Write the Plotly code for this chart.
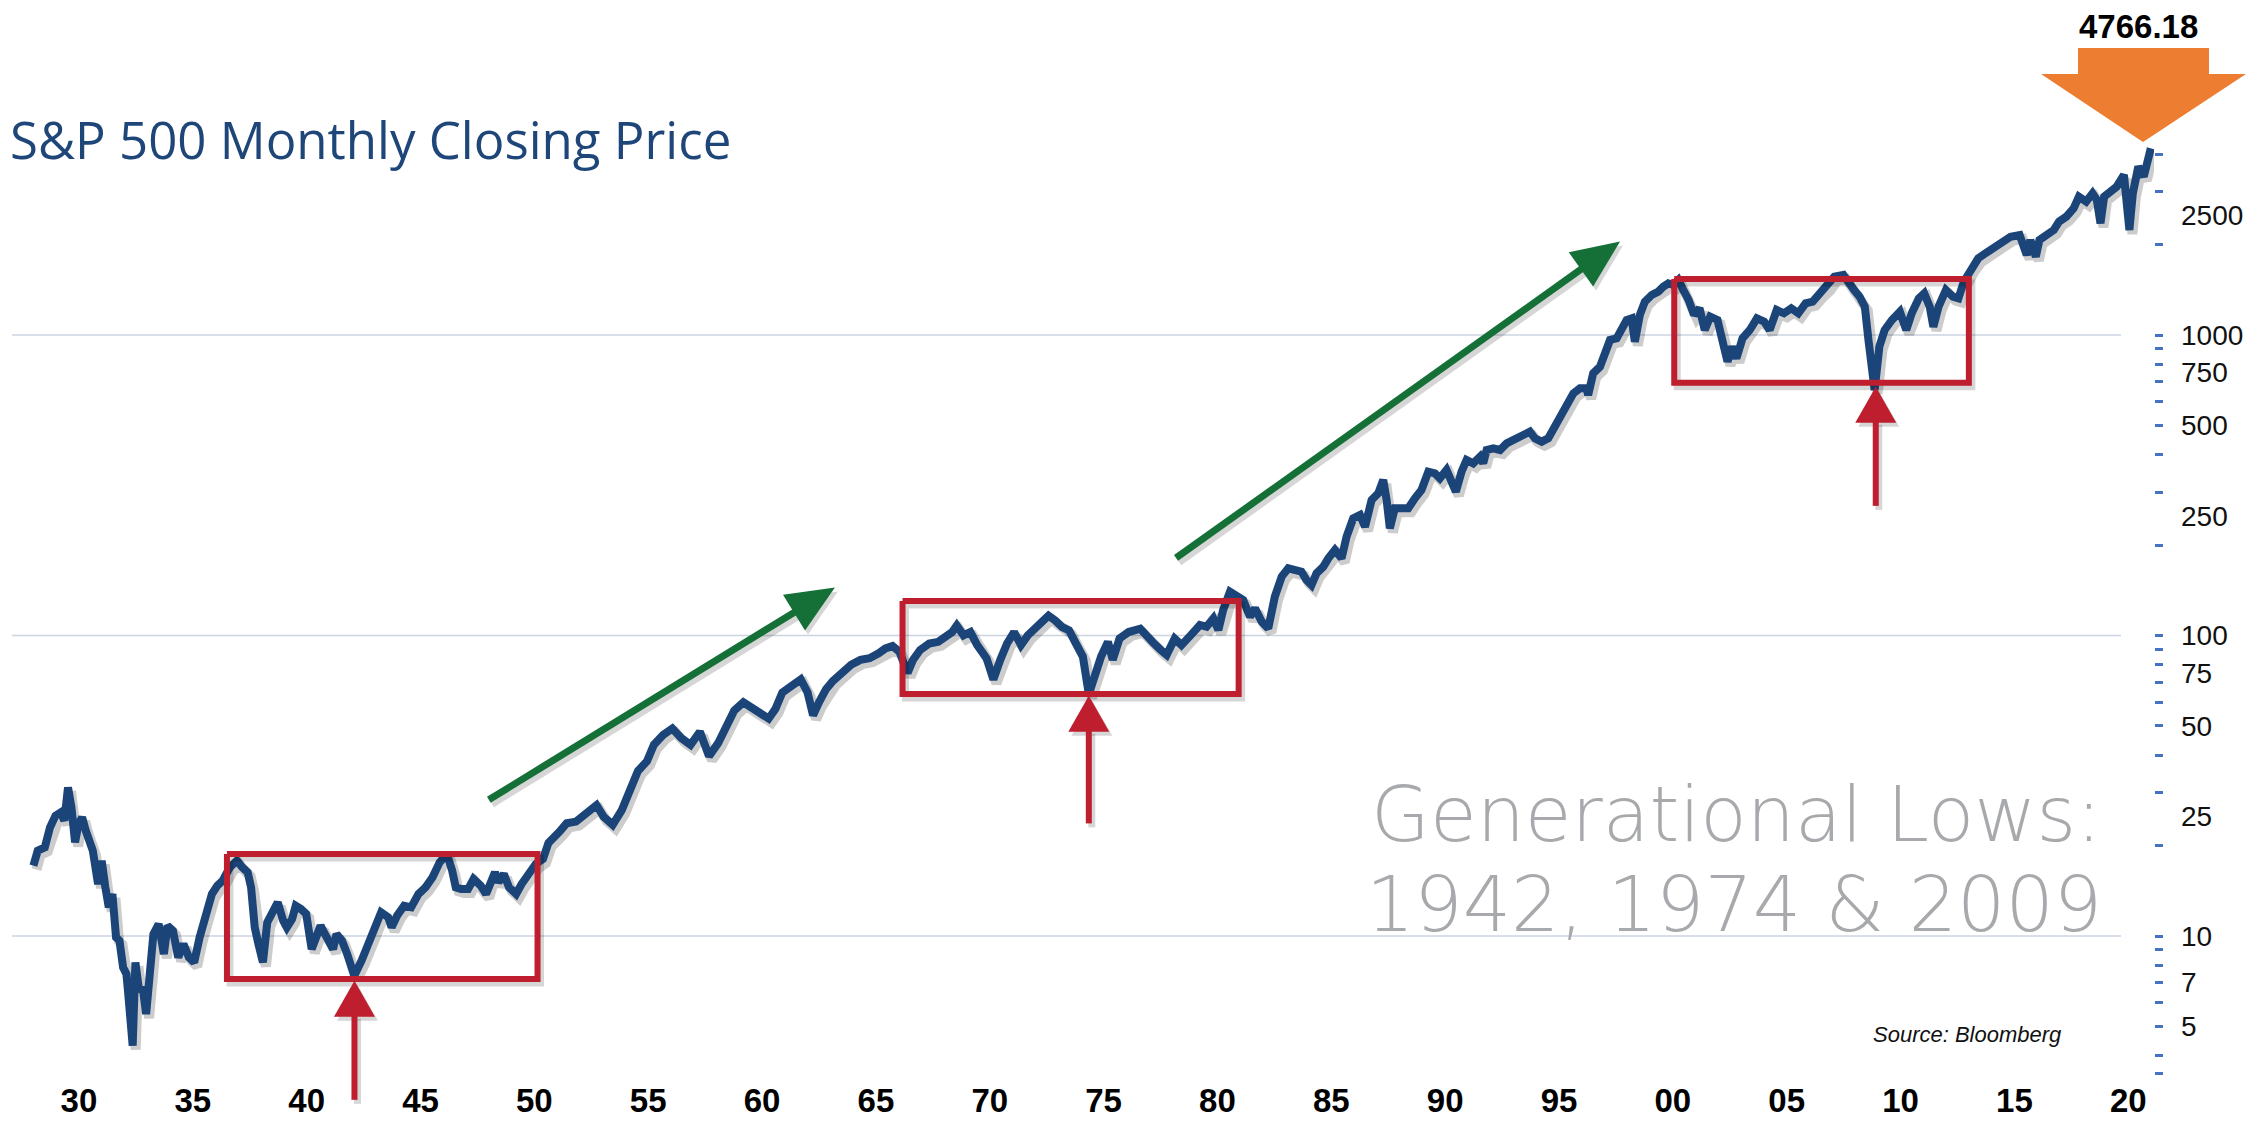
import math
import plotly.graph_objects as go

# S&P 500 monthly close: decimal year and index level
years = [
    1928.00, 1928.19, 1928.50, 1928.73, 1928.97, 1929.20, 1929.36, 1929.52, 1929.67, 1929.83,
    1929.98, 1930.14, 1930.30, 1930.45, 1930.61, 1930.84, 1931.00, 1931.16, 1931.31, 1931.47,
    1931.63, 1931.78, 1931.94, 1932.09, 1932.25, 1932.36, 1932.48, 1932.64, 1932.80, 1932.95,
    1933.11, 1933.27, 1933.50, 1933.73, 1933.89, 1934.13, 1934.36, 1934.59, 1934.83, 1935.06,
    1935.30, 1935.61, 1935.84, 1936.08, 1936.31, 1936.63, 1936.94, 1937.17, 1937.41, 1937.56,
    1937.72, 1937.88, 1938.08, 1938.27, 1938.50, 1938.73, 1938.97, 1939.13, 1939.36, 1939.52,
    1939.75, 1939.98, 1940.22, 1940.38, 1940.61, 1940.84, 1941.00, 1941.16, 1941.31, 1941.55,
    1941.78, 1942.09, 1942.41, 1942.72, 1943.03, 1943.27, 1943.58, 1943.73, 1943.97, 1944.28,
    1944.59, 1944.91, 1945.22, 1945.53, 1945.84, 1946.16, 1946.39, 1946.55, 1946.78, 1947.09,
    1947.33, 1947.64, 1947.88, 1948.11, 1948.27, 1948.42, 1948.66, 1948.89, 1949.20, 1949.44,
    1949.75, 1950.06, 1950.38,
    1950.62, 1951.12, 1951.42, 1951.83, 1952.23, 1952.73, 1953.04, 1953.44, 1953.84, 1954.14,
    1954.55, 1954.95, 1955.25, 1955.65, 1956.06, 1956.46, 1956.86, 1957.27, 1957.67, 1958.07,
    1958.37, 1958.78, 1959.18, 1959.58, 1959.99, 1960.29, 1960.59, 1960.89, 1961.29, 1961.70,
    1962.00, 1962.24, 1962.50, 1962.81, 1963.11, 1963.51, 1963.91, 1964.32, 1964.72, 1965.12,
    1965.42, 1965.73, 1966.03, 1966.39, 1966.63, 1966.94, 1967.34, 1967.74, 1968.04, 1968.35,
    1968.55, 1968.85, 1969.15, 1969.45, 1969.86, 1970.16, 1970.46, 1970.76, 1971.07, 1971.37,
    1971.67, 1972.07, 1972.58, 1972.88, 1973.18, 1973.48, 1973.78, 1974.09, 1974.35, 1974.63,
    1974.89, 1975.19, 1975.40, 1975.70, 1976.10, 1976.61, 1976.91, 1977.21, 1977.51, 1977.77,
    1978.12, 1978.42, 1978.82,
    1979.23, 1979.52, 1979.82, 1980.04, 1980.25, 1980.55, 1980.84, 1981.13, 1981.43, 1981.65,
    1981.94, 1982.23, 1982.52, 1982.82, 1983.11, 1983.48, 1983.69, 1983.91, 1984.13, 1984.35,
    1984.65, 1984.87, 1985.16, 1985.45, 1985.67, 1985.96, 1986.26, 1986.48, 1986.77, 1987.06,
    1987.28, 1987.43, 1987.57, 1987.79, 1988.09, 1988.38, 1988.67, 1988.96, 1989.26, 1989.55,
    1989.77, 1990.06, 1990.28, 1990.47, 1990.72, 1990.94, 1991.23, 1991.53, 1991.67, 1991.82,
    1992.11, 1992.41, 1992.70, 1992.99, 1993.28, 1993.58, 1993.72, 1993.94, 1994.24, 1994.53,
    1994.82, 1995.04, 1995.33, 1995.63, 1995.92, 1996.21, 1996.28, 1996.50, 1996.80, 1997.02,
    1997.24, 1997.53, 1997.75, 1997.97, 1998.19, 1998.33, 1998.55, 1998.77, 1999.07, 1999.36,
    1999.58, 1999.80, 2000.02, 2000.24,
    2000.46, 2000.69, 2000.93, 2001.17, 2001.40, 2001.64, 2001.96, 2002.19, 2002.40, 2002.59,
    2002.79, 2003.06, 2003.38, 2003.69, 2004.01, 2004.25, 2004.56, 2004.88, 2005.20, 2005.51,
    2005.83, 2006.14, 2006.46, 2006.78, 2007.09, 2007.49, 2007.72, 2007.96, 2008.20, 2008.43,
    2008.59, 2008.86, 2009.07, 2009.30, 2009.62, 2009.97, 2010.25, 2010.49, 2010.80, 2011.04,
    2011.28, 2011.44, 2011.67, 2011.99, 2012.30, 2012.54, 2012.78, 2013.09, 2013.41, 2013.73,
    2014.12, 2014.44, 2014.83, 2015.23, 2015.39, 2015.54, 2015.70, 2015.94, 2016.10, 2016.41,
    2016.73, 2016.96, 2017.28, 2017.60, 2017.83, 2018.15, 2018.43, 2018.62, 2018.78, 2018.94,
    2019.26, 2019.49, 2019.81, 2020.05, 2020.20, 2020.44, 2020.68, 2020.83, 2020.99,
]
closes = [
    17.14, 19.23, 19.72, 22.99, 25.15, 25.79, 24.20, 31.24, 26.80, 20.50,
    23.59, 24.83, 22.41, 20.76, 19.23, 14.89, 17.81, 14.52, 12.46, 13.80,
    9.90, 9.65, 7.86, 7.47, 5.64, 4.32, 8.17, 6.58, 6.75, 5.50,
    7.47, 10.15, 10.96, 8.71, 10.82, 10.41, 8.49, 9.41, 8.49, 8.17,
    9.90, 12.14, 13.80, 14.71, 15.28, 16.93, 17.81, 16.93, 16.29, 14.52,
    10.69, 9.41, 8.17, 11.10, 12.14, 12.94, 11.25, 10.69, 11.39, 12.61,
    12.30, 11.84, 9.05, 9.65, 10.82, 10.03, 9.41, 9.05, 10.15, 9.65,
    8.71, 7.38, 8.28, 9.41, 10.96, 11.99, 11.54, 10.69, 11.68, 12.61,
    12.46, 13.80, 14.52, 15.68, 17.58, 18.75, 16.50, 14.52, 14.33, 14.33,
    15.48, 14.71, 13.80, 15.68, 16.29, 15.09, 16.08, 14.52, 13.80, 14.89,
    16.29, 17.36, 18.04,
    20.42, 22.29, 23.73, 24.03, 25.58, 27.24, 24.95, 23.44, 26.24, 30.10,
    35.42, 38.18, 43.28, 46.67, 49.06, 45.51, 43.28, 47.85, 39.65, 43.83,
    49.06, 56.30, 59.95, 57.02, 54.91, 52.88, 57.02, 64.63, 67.94, 71.43,
    64.63, 54.23, 59.95, 66.26, 70.55, 75.09, 79.93, 82.99, 84.03, 87.26,
    90.60, 92.21, 88.38, 75.09, 82.99, 89.48, 94.08, 95.26, 98.90, 102.7,
    107.9, 100.1, 102.7, 92.9, 84.03, 71.43, 82.99, 94.08, 102.7, 92.9,
    100.1, 106.6, 116.4, 112.1, 106.6, 104.0, 94.08, 85.1, 63.8, 75.09,
    85.1, 95.26, 82.99, 97.68, 102.7, 105.3, 98.90, 94.08, 89.48, 86.2,
    97.68, 92.9, 100.1,
    108.4, 106.9, 114.0, 104.3, 121.6, 139.9, 134.7, 131.3, 115.5, 123.1,
    111.2, 105.6, 134.7, 157.0, 167.3, 165.2, 163.1, 153.0, 147.3, 161.0,
    169.5, 180.6, 192.6, 180.6, 213.3, 245.4, 251.8, 230.2, 282.5, 297.3,
    329.3, 282.5, 227.3, 265.0, 265.0, 265.0, 286.1, 305.0, 351.0, 346.5,
    333.4, 355.4, 325.1, 301.1, 351.0, 383.7, 374.0, 393.6, 374.0, 414.3,
    419.6, 414.3, 436.0, 447.3, 458.9, 464.8, 476.8, 453.1, 441.6, 453.1,
    495.5, 541.8, 577.6, 639.6, 664.5, 664.5, 631.5, 745.6, 784.7, 869.0,
    962.5, 974.8, 1039, 1122, 1136, 950.2, 1166, 1291, 1359, 1394,
    1448, 1486, 1467, 1524,
    1412, 1308, 1166, 1227, 1039, 1151, 1122, 962.5, 815.4, 914.8,
    836.4, 974.8, 1039, 1136, 1108, 1039, 1211, 1181, 1227, 1181,
    1275, 1291, 1376, 1448, 1564, 1584, 1486, 1412, 1341, 1243,
    962.5, 656.1, 914.8, 1039, 1122, 1196, 1039, 1181, 1324, 1376,
    1243, 1066, 1243, 1412, 1341, 1324, 1505, 1667, 1800, 1870,
    1968, 2045, 2124, 2151, 1968, 1846, 2071, 1823, 2071, 2151,
    2236, 2383, 2476, 2640, 2886, 2778, 2960, 2813, 2353, 2886,
    3037, 3115, 3408, 2236, 2960, 3633, 3365, 3727, 4180,
]

# highlighted ranges (year span, level span)
box_years = [(1936.5, 1950.14), (1966.17, 1980.93), (2000.06, 2013.0)]
box_levels = [(7.19, 18.75), (63.9, 130.3), (694, 1535)]
# generational lows: arrow tip and tail
low_years = [1942.1, 1974.35, 2008.91]
low_levels = [7.10, 63.0, 673]
tail_levels = [2.85, 23.7, 270]
# trend arrows
trend_from = [(1948.0, 28.4), (1978.18, 181.2)]
trend_to = [(1963.2, 144.5), (1997.68, 2047)]

x_ticks = list(range(1930, 2021, 5))
x_labels = [f"{y % 100:02d}" for y in x_ticks]
y_label_vals = [5, 7, 10, 25, 50, 75, 100, 250, 500, 750, 1000, 2500]
y_minor_vals = [3.5, 4, 5, 6, 7, 8, 9, 10, 20, 30, 40, 50, 60, 70, 80, 90,
                100, 200, 300, 400, 500, 600, 700, 800, 900, 1000, 2000, 3000, 4000]
grid_vals = [10, 100, 1000]
last_close_label = "4766.18"

# ---- layout geometry
W, H = 2253, 1124
ML, MR, MT, MB = 12, 99, 140, 50
PW, PH = W - ML - MR, H - MT - MB
XR = [1927.06, 2021.13]
YR = [0.5408, 3.6489]

NAVY = "#1B4478"
RED = "#BE1E2D"
GREEN = "#157038"
ORANGE = "#ED7D31"
SHADOW = "rgba(0,0,0,0.16)"


def to_px(yr, lvl):
    x = ML + (yr - XR[0]) / (XR[1] - XR[0]) * PW
    y = MT + (YR[1] - math.log10(lvl)) / (YR[1] - YR[0]) * PH
    return x, y


def paper(x, y):
    return (x - ML) / PW, 1 - (y - MT) / PH


def path(points, close=True):
    s = ""
    for i, (x, y) in enumerate(points):
        px_, py_ = paper(x, y)
        s += ("M" if i == 0 else "L") + f"{px_:.5f},{py_:.5f} "
    return s + ("Z" if close else "")


def arrow(p0, p1, head_len, head_w):
    (x0, y0), (x1, y1) = p0, p1
    d = math.hypot(x1 - x0, y1 - y0)
    ux, uy = (x1 - x0) / d, (y1 - y0) / d
    bx, by = x1 - ux * head_len, y1 - uy * head_len
    nx, ny = -uy, ux
    shaft = [(x0, y0), (bx + ux * 2, by + uy * 2)]
    head = [(x1, y1), (bx + nx * head_w / 2, by + ny * head_w / 2),
            (bx - nx * head_w / 2, by - ny * head_w / 2)]
    return shaft, head


shapes = []


def add_line(pts, color, width):
    shapes.append(dict(type="path", path=path(pts, close=False), xref="paper", yref="paper",
                       line=dict(color=color, width=width), layer="above"))


def add_poly(pts, color):
    shapes.append(dict(type="path", path=path(pts), xref="paper", yref="paper",
                       fillcolor=color, line=dict(width=0), layer="above"))


def shift(pts, dx=3, dy=4):
    return [(x + dx, y + dy) for x, y in pts]


# gridlines (stop short of the right axis, like the original)
for v in grid_vals:
    _, gy = to_px(XR[0], v)
    shapes.append(dict(type="line", xref="paper", yref="paper",
                       x0=0, x1=paper(2121, 0)[0], y0=paper(0, gy)[1], y1=paper(0, gy)[1],
                       line=dict(color="#CCD4E2", width=1.5), layer="below"))

# red boxes
for (ya, yb), (la, lb) in zip(box_years, box_levels):
    x0, y0 = to_px(ya, lb)
    x1, y1 = to_px(yb, la)
    rect = [(x0, y0), (x1, y0), (x1, y1), (x0, y1), (x0, y0)]
    add_line(shift(rect), SHADOW, 7)
    add_line(rect, RED, 6)

# red arrows up to the lows
for yr, tip, tail in zip(low_years, low_levels, tail_levels):
    shaft, head = arrow(to_px(yr, tail), to_px(yr, tip), 36, 41)
    add_line(shift(shaft), SHADOW, 7)
    add_poly(shift(head), SHADOW)
    add_line(shaft, RED, 6)
    add_poly(head, RED)

# green trend arrows
for a, b in zip(trend_from, trend_to):
    shaft, head = arrow(to_px(*a), to_px(*b), 48, 42)
    add_line(shift(shaft), SHADOW, 8)
    add_poly(shift(head), SHADOW)
    add_line(shaft, GREEN, 7)
    add_poly(head, GREEN)

# orange block arrow over the last close
add_poly([(2078, 48), (2209, 48), (2209, 74), (2246, 74), (2143, 142), (2041, 74), (2078, 74)], ORANGE)

fig = go.Figure()
# soft drop shadow under the price line
fig.add_trace(go.Scatter(
    x=[y + 3 / 22.77 for y in years], y=[c * 10 ** (-4 / 300.5) for c in closes],
    mode="lines", line=dict(color="rgba(0,0,0,0.2)", width=10), hoverinfo="skip"))
fig.add_trace(go.Scatter(
    x=years, y=closes, mode="lines", line=dict(color=NAVY, width=8)))


def note(text, x, y, size, color, xanchor="left", family="Liberation Sans", weight=400, style="normal"):
    px_, py_ = paper(x, y)
    return dict(text=text, x=px_, y=py_, xref="paper", yref="paper", showarrow=False,
                xanchor=xanchor, yanchor="middle",
                font=dict(family=family, size=size, color=color, weight=weight, style=style))


annotations = [
    note("S&amp;P 500 Monthly Closing Price", 8, 139, 51, "#1F4679", family="Open Sans"),
    note("Generational Lows:", 2104, 814, 76, "#A7A9AC", xanchor="right", family="DejaVu Sans", weight=200),
    note("1942, 1974 &amp; 2009", 2104, 904, 76, "#A7A9AC", xanchor="right", family="DejaVu Sans", weight=200),
    note("Source: Bloomberg", 2064, 1034, 22, "#111111", xanchor="right", style="italic"),
    note(last_close_label, 2138, 27, 33, "#000000", xanchor="center", weight=700),
]

fig.update_layout(
    width=W, height=H,
    margin=dict(l=ML, r=MR, t=MT, b=MB, pad=0),
    paper_bgcolor="white", plot_bgcolor="white",
    showlegend=False,
    shapes=shapes,
    annotations=annotations,
    xaxis=dict(
        range=XR, showgrid=False, zeroline=False, showline=False, automargin=False,
        tickmode="array", tickvals=x_ticks, ticktext=x_labels, ticks="",
        ticklabelstandoff=4,
        tickfont=dict(family="Liberation Sans", size=33, color="#000000", weight=700),
    ),
    yaxis=dict(
        type="log", range=YR, side="right", showgrid=False, zeroline=False, showline=False,
        automargin=False,
        tickmode="array", tickvals=y_label_vals, ticktext=[str(v) for v in y_label_vals],
        ticks="", ticklabelstandoff=26,
        tickfont=dict(family="Liberation Sans", size=28, color="#111111"),
        minor=dict(tickmode="array", tickvals=y_minor_vals, ticks="outside", ticklen=8,
                   tickwidth=3, tickcolor="#4472C4", showgrid=False),
    ),
)

# drop the browser's default page margin so the figure sits flush at the top-left
fig.write_html("out.html", config={"displayModeBar": False},
               post_script="document.body.style.margin='0';")
